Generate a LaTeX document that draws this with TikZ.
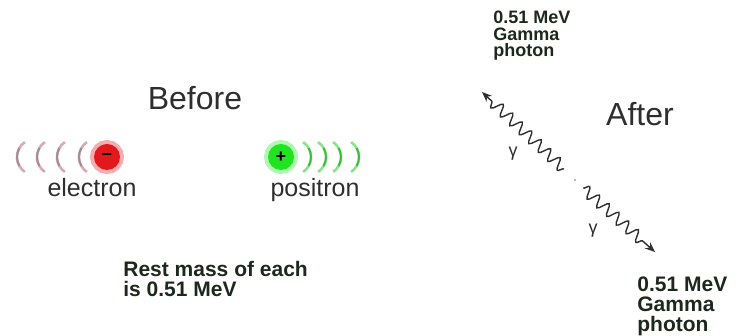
\documentclass[tikz,border=0pt]{standalone}
\usepackage{fontspec}
\setmainfont{Liberation Sans}
\usetikzlibrary{arrows.meta,positioning,calc,decorations.pathmorphing}
\definecolor{ink}{HTML}{2E2E2E}
\definecolor{noteink}{HTML}{1D281D}
\definecolor{elecred}{HTML}{E3181C}
\definecolor{elecwave}{HTML}{D9A9B4}
\definecolor{elecwavedark}{HTML}{9C8E94}
\definecolor{posgreen}{HTML}{1FE41F}
\definecolor{poswave}{HTML}{8FE08F}
\definecolor{poswavedark}{HTML}{34C034}
\tikzset{
  heading/.style={text=ink, inner sep=0pt, font=\fontsize{16}{18}\selectfont},
  particle/.style={circle, inner sep=0pt, minimum size=13pt, text=black, font=\bfseries\fontsize{9}{9}\selectfont},
  glow/.style={preaction={draw=#1!35, line width=4pt}},
  ewave/.style={draw=elecwave, line width=1.3pt},
  ewavecore/.style={draw=elecwavedark, line width=0.9pt},
  pwave/.style={draw=poswave, line width=1.3pt},
  pwavecore/.style={draw=poswavedark, line width=0.9pt},
  partname/.style={text=ink, inner sep=0pt, font=\fontsize{12.5}{14}\selectfont},
  note/.style={text=noteink, align=left, inner sep=0pt, font=\bfseries\fontsize{10.5}{10}\selectfont},
  smallnote/.style={note, font=\bfseries\fontsize{9}{8.2}\selectfont},
  gammalabel/.style={text=ink, inner sep=0pt, font=\fontsize{9}{9}\selectfont},
  photon/.style={draw=ink, line width=0.7pt, -{Stealth[length=5pt,width=4pt]},
    decorate, decoration={snake, amplitude=2.8pt, segment length=6.5pt, post length=6pt}}
}

\begin{document}
\begin{tikzpicture}[x=0.5pt, y=0.5pt]
  \useasboundingbox (0,0) rectangle (750,336);

  % before: electron and positron moving towards each other
  \node[heading] (before) at (195,238) {Before};
  \node[particle, fill=elecred, glow=elecred] (e) at (107,179) {\char"2212};
  \node[particle, fill=posgreen, glow=posgreen] (p) at (281,179) {+};
  \foreach \d in {28,50,70,90} {
    \draw[ewave] ($(e)+(-\d,0)+(7.9,14.9)$) arc[start angle=124, end angle=236, radius=18];
    \draw[ewavecore] ($(e)+(-\d,0)+(2.4,9)$) arc[start angle=150, end angle=210, radius=18];
  }
  \foreach \d in {30,45,60,78} {
    \draw[pwave] ($(p)+(\d,0)+(-7.9,14.9)$) arc[start angle=56, end angle=-56, radius=18];
    \draw[pwavecore] ($(p)+(\d,0)+(-2.4,9)$) arc[start angle=30, end angle=-30, radius=18];
  }
  \node[partname, below=4pt of e, xshift=-7.5pt] (etext) {electron};
  \node[partname, below=4pt of p, xshift=17pt] (ptext) {positron};
  \node[note, anchor=north west] (rest) at (123,75) {Rest mass of each\\is 0.51 MeV};

  % after: two gamma photons leave the annihilation point
  \node[heading] (after) at (640,222) {After};
  \coordinate (ann) at (575,156);
  \coordinate (tip1) at (482,244);
  \coordinate (tip2) at (655,84);
  \fill[ink!40] (ann) circle (1.2);
  \draw[photon] ($(ann)+(-11,11)$) -- (tip1);
  \draw[photon] ($(ann)+(8,-8)$) -- (tip2);
  \node[gammalabel] (g1) at (513,182) {γ};
  \node[gammalabel] (g2) at (593,105) {γ};
  \node[smallnote, anchor=north west] (top) at (493,325) {0.51 MeV\\Gamma\\photon};
  \node[note, anchor=north west] (bottom) at (637,60) {0.51 MeV\\Gamma\\photon};
\end{tikzpicture}
\end{document}
